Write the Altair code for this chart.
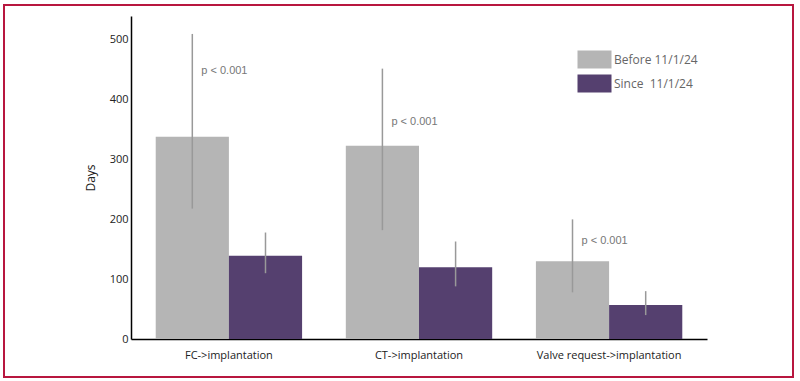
import altair as alt
import pandas as pd

# Median wait (days) with interquartile spread, before and since 11/1/24
groups = ["FC->implantation", "CT->implantation", "Valve request->implantation"]
periods = ["Before 11/1/24", "Since\u00a0 11/1/24"]

before_mid = [338, 323, 130]
before_lo = [218, 182, 78]
before_hi = [510, 452, 200]

since_mid = [139, 120, 57]
since_lo = [110, 88, 40]
since_hi = [178, 163, 80]

p_text = ["p < 0.001", "p < 0.001", "p < 0.001"]
p_y = [448, 363, 164]

rows = []
for i, g in enumerate(groups):
    rows.append(dict(group=g, period=periods[0], mid=before_mid[i], lo=before_lo[i], hi=before_hi[i]))
    rows.append(dict(group=g, period=periods[1], mid=since_mid[i], lo=since_lo[i], hi=since_hi[i]))
df = pd.DataFrame(rows)

pdf = pd.DataFrame(dict(group=groups, period=[periods[0]] * 3, label=p_text, y=p_y))

FONT = "Open Sans"
GRAY = "#b5b5b5"
PURPLE = "#55406f"

x_enc = alt.X(
    "group:N",
    sort=groups,
    title=None,
    scale=alt.Scale(paddingInner=0.23, paddingOuter=0.13),
    axis=alt.Axis(
        labelAngle=0, ticks=False, domainColor="#000", domainWidth=1.5,
        labelFont=FONT, labelFontSize=11, labelColor="#222", labelPadding=10,
    ),
)
xo_enc = alt.XOffset("period:N", sort=periods, scale=alt.Scale(paddingInner=0, paddingOuter=0))
y_scale = alt.Scale(domain=[0, 540], nice=False)

bars = alt.Chart(df).mark_bar().encode(
    x=x_enc,
    xOffset=xo_enc,
    y=alt.Y(
        "mid:Q",
        scale=y_scale,
        title="Days",
        axis=alt.Axis(
            values=[0, 100, 200, 300, 400, 500], ticks=False, grid=False,
            domainColor="#000", domainWidth=1.5, labelFont=FONT, labelFontSize=11,
            labelColor="#222", labelPadding=3, titleFont=FONT, titleFontSize=12,
            titleFontWeight="normal", titleColor="#222", titlePadding=12,
        ),
    ),
    color=alt.Color(
        "period:N",
        sort=periods,
        scale=alt.Scale(domain=periods, range=[GRAY, PURPLE]),
        legend=alt.Legend(
            title=None, orient="none", legendX=455, legendY=35, padding=0,
            symbolType="M-2,-1.06H2V1.06H-2Z", symbolSize=289, symbolStrokeWidth=0,
            symbolOpacity=1, labelFont=FONT, labelFontSize=12, labelColor="#666",
            labelOffset=11, rowPadding=5,
        ),
    ),
)

errs = alt.Chart(df).mark_rule(color="#999", strokeWidth=1.5).encode(
    x=alt.X("group:N", sort=groups),
    xOffset=xo_enc,
    y=alt.Y("lo:Q", scale=y_scale),
    y2="hi:Q",
)

plabels = alt.Chart(pdf).mark_text(
    align="left", baseline="middle", dx=9, font="Liberation Sans", fontSize=11, color="#777"
).encode(
    x=alt.X("group:N", sort=groups),
    xOffset=xo_enc,
    y=alt.Y("y:Q", scale=y_scale),
    text="label:N",
)

frame = alt.Chart(pd.DataFrame({"k": [0]})).mark_rect(
    fill=None, stroke="#b8173f", strokeWidth=2, clip=False
).encode(
    x=alt.value(-127), x2=alt.value(662), y=alt.value(-11), y2=alt.value(361)
)

chart = (
    alt.layer(bars, errs, plabels, frame)
    .properties(
        width=576, height=323,
        autosize=alt.AutoSizeParams(type="none"),
        padding={"left": 131, "top": 16, "right": 93, "bottom": 42},
        background="white",
    )
    .configure_view(stroke=None)
)

chart.save("out.html", embed_options={"renderer": "svg", "actions": False})
